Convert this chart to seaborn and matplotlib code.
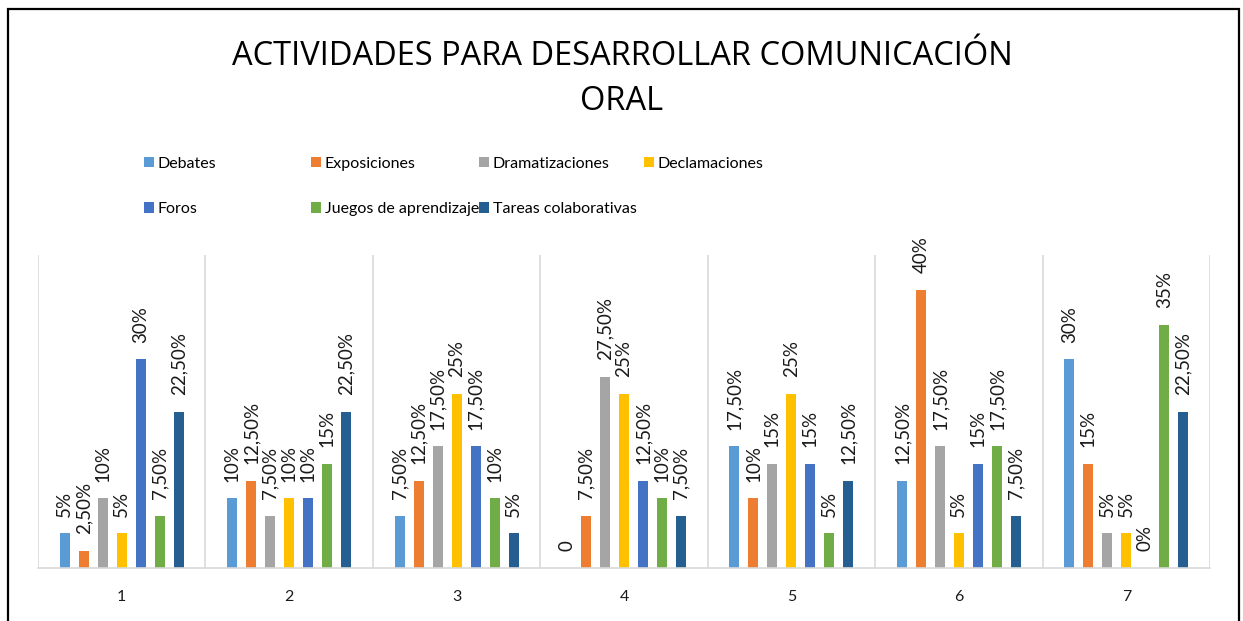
import pandas as pd
import matplotlib.pyplot as plt
import matplotlib.patches as mpatches
import seaborn as sns

# datos (porcentajes por grupo 1..7)
grupos = ["1", "2", "3", "4", "5", "6", "7"]
actividades = ["Debates", "Exposiciones", "Dramatizaciones", "Declamaciones",
               "Foros", "Juegos de aprendizaje", "Tareas colaborativas"]
debates = [5, 10, 7.5, 0, 17.5, 12.5, 30]
exposiciones = [2.5, 12.5, 12.5, 7.5, 10, 40, 15]
dramatizaciones = [10, 7.5, 17.5, 27.5, 15, 17.5, 5]
declamaciones = [5, 10, 25, 25, 25, 5, 5]
foros = [30, 10, 17.5, 12.5, 15, 15, 0]
juegos = [7.5, 15, 10, 10, 5, 17.5, 35]
tareas = [22.5, 22.5, 5, 7.5, 12.5, 7.5, 22.5]
colores = ["#5B9BD5", "#ED7D31", "#A5A5A5", "#FFC000",
           "#4472C4", "#70AD47", "#255E91"]

series = [debates, exposiciones, dramatizaciones, declamaciones, foros, juegos, tareas]
df = pd.DataFrame({
    "grupo": grupos * len(actividades),
    "actividad": [a for a in actividades for _ in grupos],
    "valor": [v for s in series for v in s],
})


def etiqueta(v):
    if v == int(v):
        return f"{int(v)}%"
    return f"{v:.2f}".replace(".", ",") + "%"


etiquetas = [[etiqueta(v) for v in s] for s in series]
etiquetas[0][3] = "0"  # el original muestra "0" sin signo

sns.set_theme(style="white")
plt.rcParams["font.family"] = ["Lato", "DejaVu Sans"]

fig = plt.figure(figsize=(12.43, 6.21), dpi=100)
W, H = 1243, 621
ax = fig.add_axes([38 / W, 1 - 568 / H, (1210 - 38) / W, (568 - 255) / H])

sns.barplot(data=df, x="grupo", y="valor", hue="actividad", palette=colores,
            width=0.794, gap=0.47, saturation=1, errorbar=None, linewidth=0,
            ax=ax)

handles, labels = ax.get_legend_handles_labels()
ax.get_legend().remove()

for cont, labs in zip(ax.containers, etiquetas):
    ax.bar_label(cont, labels=labs, rotation=90, padding=12, fontsize=13.5,
                 color="#1a1a1a")

ax.set_ylim(0, 45)
ax.set_xlim(-0.5, 6.5)
ax.set_yticks([])
ax.set_xlabel("")
ax.set_ylabel("")
ax.set_xticks([i - 0.5 for i in range(8)], minor=True)
ax.grid(True, which="minor", axis="x", color="#D9D9D9", linewidth=1.2)
ax.tick_params(axis="x", which="both", length=0, labelsize=11.5, colors="#1a1a1a", pad=16)
for s in ["top", "right", "left"]:
    ax.spines[s].set_visible(False)
ax.spines["bottom"].set_color("#D9D9D9")
ax.spines["bottom"].set_linewidth(1.2)

# leyenda en columnas de ancho fijo como en Excel
columnas = [[0, 4], [1, 5], [2, 6], [3]]
xs = [144, 311, 479, 644]
for idx, x0 in zip(columnas, xs):
    fig.legend([handles[i] for i in idx], [labels[i] for i in idx],
               loc="upper left", bbox_to_anchor=(x0 / W, 1 - 157 / H),
               frameon=False, fontsize=11.5, borderpad=0, borderaxespad=0,
               handlelength=0.6, handleheight=0.6, handletextpad=0.25,
               labelspacing=1.95, labelcolor="#000000")

fig.text(622 / W, 1 - 79 / H, "ACTIVIDADES PARA DESARROLLAR COMUNICACIÓN\nORAL",
         ha="center", va="center", fontsize=23.5, family="Open Sans",
         color="#000000", linespacing=1.45)

fig.patches.append(mpatches.Rectangle((8 / W, -0.02), (1239 - 8) / W, 1.02 - 9 / H,
                                      transform=fig.transFigure, fill=False,
                                      edgecolor="black", linewidth=1.6))

plt.savefig("out.png", dpi=100)
